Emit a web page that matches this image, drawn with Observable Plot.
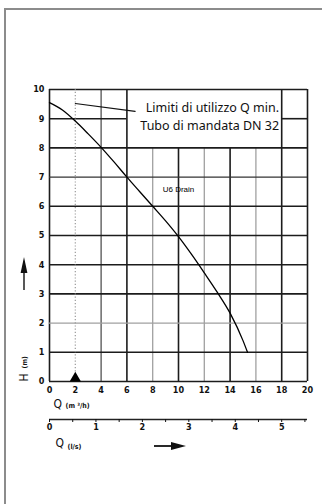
<!DOCTYPE html>
<html>
<head>
<meta charset="utf-8">
<script src="https://cdn.jsdelivr.net/npm/d3@7"></script>
<script src="https://cdn.jsdelivr.net/npm/@observablehq/plot@0.6"></script>
<style>
  html, body { margin: 0; padding: 0; background: #fff; }
  #wrap { position: relative; width: 322px; height: 504px; overflow: hidden; }
  #sheet { position: absolute; left: 4px; top: 8px; width: 400px; height: 600px;
           border-left: 2px solid #8c8c8c; border-top: 2px solid #8c8c8c; box-sizing: border-box; }
  #chart { position: absolute; left: 0; top: 0; }
</style>
</head>
<body>
<div id="wrap"><div id="sheet"></div><div id="chart"></div></div>
<script>
// Pump curve: flow Q (m³/h) against head H (m)
const flowM3h = [0, 1, 2, 3, 4, 5, 6, 7, 8, 9, 10, 11, 12, 13, 14, 15, 15.35];
const headM   = [9.55, 9.3, 8.92, 8.48, 8.02, 7.52, 7.0, 6.5, 6.0, 5.5, 4.96, 4.36, 3.72, 3.06, 2.34, 1.4, 1.0];

// Axis ticks
const flowTicks = [0, 2, 4, 6, 8, 10, 12, 14, 16, 18, 20];      // m³/h
const headTicks = [0, 1, 2, 3, 4, 5, 6, 7, 8, 9, 10];           // m
const litreTicks = [0, 0.5, 1, 1.5, 2, 2.5, 3, 3.5, 4, 4.5, 5, 5.5]; // l/s

// Grid lines
const gridX = [0, 4, 6, 8, 10, 12, 14, 16, 18, 20];
const gridY = [0, 1, 2, 3, 4, 5, 6, 7, 8, 9, 10];
const lightX = [8, 12, 16];
const lightY = [2];
const mediumX = [4];
const mediumY = [7];

// Minimum-flow limit and its note
const qMin = 2;
const noteBox = {x1: 6, x2: 18, y1: 8, y2: 10};
const noteLines = ["Limiti di utilizzo Q min.", "Tubo di mandata DN 32"];
const leaderFrom = {q: 2, h: 9.52};
const leaderTo = {q: 6.64, h: 9.25};
const noteAnchor = {q: 17.8, h: 9.12};

// Curve label
const curveName = "U6 Drain";
const curveLabelAt = {q: 10, h: 6.58};

const toLs = 3.6; // 1 l/s = 3.6 m³/h

const curve = flowM3h.map((q, i) => ({q, h: headM[i]}));

// Vertical lines stop at the note box, horizontal ones go around it
const inside = (v, a, b) => v > a && v < b;
const vSegs = gridX.map(x => ({x, y1: 0, y2: inside(x, noteBox.x1, noteBox.x2) ? noteBox.y1 : noteBox.y2}));
const hSegs = gridY.flatMap(y => inside(y, noteBox.y1, noteBox.y2)
  ? [{y, x1: 0, x2: noteBox.x1}, {y, x1: noteBox.x2, x2: 20}]
  : [{y, x1: 0, x2: 20}]);
const weight = (v, light, medium) => light.includes(v) ? "light" : medium.includes(v) ? "medium" : "heavy";
const strokeOf = {light: "#a0a0a0", medium: "#333", heavy: "#1c1c1c"};
const widthOf = {light: 1.3, medium: 1.1, heavy: 1.6};

const tickFont = "'DejaVu Sans Condensed', 'Liberation Sans Narrow', 'DejaVu Sans', sans-serif";

// Direction arrows beside the axes
function axisArrows(...args) {
  const dim = args.find(a => a && typeof a === "object" && "marginLeft" in a && "width" in a);
  const left = dim.marginLeft, bottom = dim.height - dim.marginBottom;
  const g = d3.create("svg:g");
  // upward arrow for H
  const ax = left - 25;
  g.append("line").attr("x1", ax).attr("x2", ax).attr("y1", bottom - 91).attr("y2", bottom - 109)
    .attr("stroke", "#111").attr("stroke-width", 1.4);
  g.append("path").attr("d", `M${ax},${bottom - 124}L${ax + 3.4},${bottom - 108}L${ax - 3.4},${bottom - 108}Z`).attr("fill", "#111");
  // rightward arrow for Q
  const ay = bottom + 65;
  g.append("line").attr("x1", left + 105).attr("x2", left + 124).attr("y1", ay).attr("y2", ay)
    .attr("stroke", "#111").attr("stroke-width", 1.8);
  g.append("path").attr("d", `M${left + 137},${ay}L${left + 122},${ay - 4}L${left + 122},${ay + 4}Z`).attr("fill", "#111");
  return g.node();
}

const chart = Plot.plot({
  width: 322,
  height: 504,
  marginLeft: 49,
  marginRight: 15,
  marginTop: 89,
  marginBottom: 123,
  x: {domain: [0, 20], axis: null},
  y: {domain: [0, 10], axis: null},
  style: {background: "transparent", color: "#111"},
  marks: [
    // grid
    Plot.ruleX(vSegs, {x: "x", y1: "y1", y2: "y2",
      stroke: d => strokeOf[weight(d.x, lightX, mediumX)],
      strokeWidth: d => widthOf[weight(d.x, lightX, mediumX)]}),
    Plot.ruleY(hSegs, {y: "y", x1: "x1", x2: "x2",
      stroke: d => strokeOf[weight(d.y, lightY, mediumY)],
      strokeWidth: d => widthOf[weight(d.y, lightY, mediumY)]}),
    // Q min limit
    Plot.ruleX([qMin], {y1: 0, y2: 10, stroke: "#9a9a9a", strokeWidth: 1.2, strokeDasharray: "1.2,2"}),
    Plot.dot([{q: qMin, h: 0}], {x: "q", y: "h", symbol: "triangle", r: 4.2, dy: -3.3, fill: "#000", stroke: "none"}),
    Plot.line([leaderFrom, leaderTo], {x: "q", y: "h", stroke: "#111", strokeWidth: 1.1}),
    Plot.text([noteLines.join("\n")], {x: () => noteAnchor.q, y: () => noteAnchor.h, textAnchor: "end",
      lineAnchor: "middle", lineHeight: 1.45, fontSize: 12.5, fontFamily: "'Noto Sans', 'DejaVu Sans', sans-serif", fill: "#111"}),
    // pump curve
    Plot.line(curve, {x: "q", y: "h", curve: "monotone-x", stroke: "#000", strokeWidth: 1.3}),
    Plot.text([curveName], {x: () => curveLabelAt.q, y: () => curveLabelAt.h, fontSize: 8,
      fontFamily: "'Liberation Sans', Arial, sans-serif", fill: "#000"}),
    // H axis
    Plot.axisY(headTicks, {anchor: "left", tickSize: 0, tickPadding: 5, fontSize: 9, fontFamily: tickFont, fontWeight: "bold"}),
    // Q axis in m³/h
    Plot.axisX(flowTicks, {anchor: "bottom", tickSize: 0, tickPadding: 5, fontSize: 9, fontFamily: tickFont, fontWeight: "bold"}),
    // Q axis in l/s
    Plot.ruleY([0], {dy: 38, stroke: "#222", strokeWidth: 1.3}),
    Plot.axisX(litreTicks.map(v => v * toLs), {anchor: "bottom", dy: 38, tickSize: 3, tickPadding: 1.5,
      fontSize: 9, fontFamily: tickFont, fontWeight: "bold",
      tickFormat: d => {
        const v = d / toLs, r = Math.round(v);
        return Math.abs(v - r) < 1e-6 ? String(r) : "";
      }}),
    // axis titles
    Plot.text(["Q"], {frameAnchor: "bottom-left", dx: 4, dy: 23, textAnchor: "start", lineAnchor: "middle", fontSize: 12, fontFamily: tickFont}),
    Plot.text(["(m ³/h)"], {frameAnchor: "bottom-left", dx: 16, dy: 24, textAnchor: "start", lineAnchor: "middle", fontSize: 7, fontFamily: tickFont, fontWeight: "bold"}),
    Plot.text(["Q"], {frameAnchor: "bottom-left", dx: 6, dy: 62, textAnchor: "start", lineAnchor: "middle", fontSize: 12, fontFamily: tickFont}),
    Plot.text(["(l/s)"], {frameAnchor: "bottom-left", dx: 18, dy: 65, textAnchor: "start", lineAnchor: "middle", fontSize: 7, fontFamily: tickFont, fontWeight: "bold"}),
    Plot.text(["H"], {frameAnchor: "bottom-left", dx: -25, dy: 0, rotate: -90, textAnchor: "start", lineAnchor: "middle", fontSize: 12, fontFamily: tickFont}),
    Plot.text(["(m)"], {frameAnchor: "bottom-left", dx: -25, dy: -13, rotate: -90, textAnchor: "start", lineAnchor: "middle", fontSize: 7, fontFamily: tickFont, fontWeight: "bold"}),
    axisArrows
  ]
});

document.getElementById("chart").appendChild(chart);
</script>
</body>
</html>
